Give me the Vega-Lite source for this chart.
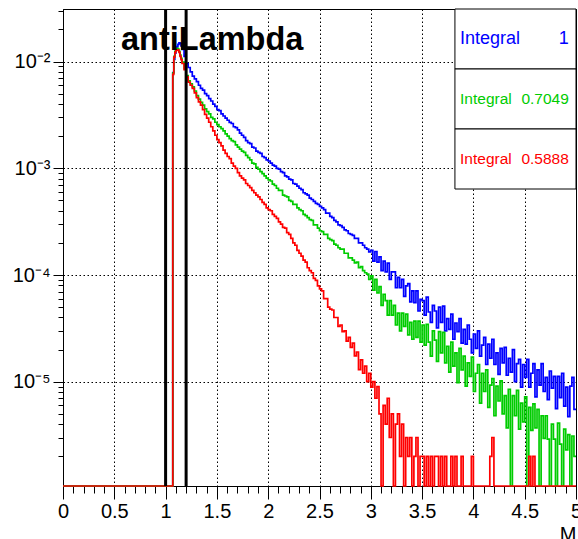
{
"$schema": "https://vega.github.io/schema/vega-lite/v6.json",
"width": 513, "height": 477,
"autosize": {"type": "none"},
"padding": {"left": 63, "top": 9, "right": 2, "bottom": 53},
"background": "white",
"config": {"font": "Liberation Sans", "view": {"stroke": "black", "strokeWidth": 1}},
"title": {"text": "antiLambda", "anchor": "start", "frame": "group", "orient": "top", "offset": 0, "dx": 58, "dy": 75, "baseline": "alphabetic", "fontSize": 32.5, "fontWeight": "bold", "font": "Liberation Sans", "color": "black"},
"datasets": {
"hist": [
{"x":0,"b":1e-6,"g":1e-6,"r":1e-6},
{"x":1.07,"b":7.9e-3,"g":7.8e-3,"r":7.6e-3},
{"x":1.08,"b":1.05e-2,"g":1.12e-2,"r":1.1e-2},
{"x":1.09,"b":1.2e-2,"g":1.25e-2,"r":1.22e-2},
{"x":1.10,"b":1.3e-2,"g":1.3e-2,"r":1.27e-2},
{"x":1.11,"b":1.38e-2,"g":1.33e-2,"r":1.29e-2},
{"x":1.12,"b":1.45e-2,"g":1.31e-2,"r":1.28e-2},
{"x":1.13,"b":1.5e-2,"g":1.25e-2,"r":1.22e-2},
{"x":1.14,"b":1.48e-2,"g":1.15e-2,"r":1.12e-2},
{"x":1.15,"b":1.4e-2,"g":1.07e-2,"r":1.04e-2},
{"x":1.16,"b":1.3e-2,"g":9.9e-3,"r":9.6e-3},
{"x":1.18,"b":1.12e-2,"g":8.6e-3,"r":8.4e-3},
{"x":1.20,"b":9.6e-3,"g":7.4e-3,"r":7.2e-3},
{"x":1.22,"b":8.8e-3,"g":6.6e-3,"r":6.4e-3},
{"x":1.24,"b":8.0e-3,"g":6.2e-3,"r":6.0e-3},
{"x":1.26,"b":7.3e-3,"g":5.8e-3,"r":5.6e-3},
{"x":1.28,"b":6.9e-3,"g":5.3e-3,"r":5.1e-3},
{"x":1.30,"b":6.5e-3,"g":4.8e-3,"r":4.6e-3},
{"x":1.32,"b":6.0e-3,"g":4.45e-3,"r":4.2e-3},
{"x":1.34,"b":5.6e-3,"g":4.15e-3,"r":3.9e-3},
{"x":1.36,"b":5.4e-3,"g":3.9e-3,"r":3.55e-3},
{"x":1.38,"b":5.0e-3,"g":3.6e-3,"r":3.2e-3},
{"x":1.40,"b":4.8e-3,"g":3.4e-3,"r":2.95e-3},
{"x":1.42,"b":4.5e-3,"g":3.24e-3,"r":2.7e-3},
{"x":1.44,"b":4.27e-3,"g":3.0e-3,"r":2.45e-3},
{"x":1.46,"b":4.0e-3,"g":2.9e-3,"r":2.24e-3},
{"x":1.48,"b":3.8e-3,"g":2.7e-3,"r":2.04e-3},
{"x":1.50,"b":3.55e-3,"g":2.57e-3,"r":1.86e-3},
{"x":1.52,"b":3.47e-3,"g":2.45e-3,"r":1.74e-3},
{"x":1.54,"b":3.24e-3,"g":2.35e-3,"r":1.62e-3},
{"x":1.56,"b":3.09e-3,"g":2.24e-3,"r":1.48e-3},
{"x":1.58,"b":2.95e-3,"g":2.1e-3,"r":1.38e-3},
{"x":1.60,"b":2.82e-3,"g":2.0e-3,"r":1.29e-3},
{"x":1.62,"b":2.69e-3,"g":1.9e-3,"r":1.23e-3},
{"x":1.64,"b":2.63e-3,"g":1.82e-3,"r":1.12e-3},
{"x":1.66,"b":2.45e-3,"g":1.78e-3,"r":1.05e-3},
{"x":1.68,"b":2.40e-3,"g":1.66e-3,"r":1.0e-3},
{"x":1.70,"b":2.29e-3,"g":1.58e-3,"r":9.1e-4},
{"x":1.72,"b":2.14e-3,"g":1.51e-3,"r":8.5e-4},
{"x":1.74,"b":2.04e-3,"g":1.45e-3,"r":8.1e-4},
{"x":1.76,"b":1.95e-3,"g":1.41e-3,"r":7.8e-4},
{"x":1.78,"b":1.82e-3,"g":1.32e-3,"r":7.2e-4},
{"x":1.80,"b":1.74e-3,"g":1.26e-3,"r":6.9e-4},
{"x":1.82,"b":1.70e-3,"g":1.2e-3,"r":6.6e-4},
{"x":1.84,"b":1.58e-3,"g":1.12e-3,"r":6.2e-4},
{"x":1.86,"b":1.55e-3,"g":1.1e-3,"r":5.9e-4},
{"x":1.88,"b":1.45e-3,"g":1.02e-3,"r":5.6e-4},
{"x":1.90,"b":1.41e-3,"g":9.8e-4,"r":5.4e-4},
{"x":1.92,"b":1.38e-3,"g":9.3e-4,"r":5.1e-4},
{"x":1.94,"b":1.29e-3,"g":8.9e-4,"r":4.8e-4},
{"x":1.96,"b":1.26e-3,"g":8.5e-4,"r":4.6e-4},
{"x":1.98,"b":1.20e-3,"g":8.1e-4,"r":4.25e-4},
{"x":2.00,"b":1.17e-3,"g":7.8e-4,"r":4.1e-4},
{"x":2.02,"b":1.12e-3,"g":7.6e-4,"r":4.0e-4},
{"x":2.04,"b":1.07e-3,"g":7.1e-4,"r":3.7e-4},
{"x":2.06,"b":1.05e-3,"g":6.9e-4,"r":3.55e-4},
{"x":2.08,"b":1.0e-3,"g":6.5e-4,"r":3.4e-4},
{"x":2.10,"b":9.8e-4,"g":6.2e-4,"r":3.15e-4},
{"x":2.12,"b":9.3e-4,"g":6.2e-4,"r":3.0e-4},
{"x":2.14,"b":9.1e-4,"g":5.6e-4,"r":2.8e-4},
{"x":2.16,"b":8.5e-4,"g":5.5e-4,"r":2.75e-4},
{"x":2.18,"b":8.3e-4,"g":5.4e-4,"r":2.5e-4},
{"x":2.20,"b":7.9e-4,"g":5.0e-4,"r":2.4e-4},
{"x":2.22,"b":7.8e-4,"g":4.9e-4,"r":2.2e-4},
{"x":2.24,"b":7.2e-4,"g":4.6e-4,"r":2.0e-4},
{"x":2.26,"b":7.1e-4,"g":4.6e-4,"r":1.9e-4},
{"x":2.28,"b":6.8e-4,"g":4.25e-4,"r":1.7e-4},
{"x":2.30,"b":6.5e-4,"g":4.1e-4,"r":1.6e-4},
{"x":2.32,"b":6.3e-4,"g":4.0e-4,"r":1.5e-4},
{"x":2.34,"b":5.9e-4,"g":3.7e-4,"r":1.38e-4},
{"x":2.36,"b":5.75e-4,"g":3.6e-4,"r":1.32e-4},
{"x":2.38,"b":5.6e-4,"g":3.45e-4,"r":1.17e-4},
{"x":2.40,"b":5.25e-4,"g":3.3e-4,"r":1.1e-4},
{"x":2.42,"b":5.1e-4,"g":3.25e-4,"r":1.05e-4},
{"x":2.44,"b":4.9e-4,"g":2.95e-4,"r":9.3e-5},
{"x":2.46,"b":4.7e-4,"g":2.95e-4,"r":8.9e-5},
{"x":2.48,"b":4.6e-4,"g":2.75e-4,"r":7.9e-5},
{"x":2.50,"b":4.4e-4,"g":2.6e-4,"r":7.4e-5},
{"x":2.52,"b":4.25e-4,"g":2.55e-4,"r":7.1e-5},
{"x":2.54,"b":4.1e-4,"g":2.4e-4,"r":6.0e-5},
{"x":2.56,"b":3.8e-4,"g":2.4e-4,"r":6.0e-5},
{"x":2.58,"b":3.8e-4,"g":2.2e-4,"r":5.0e-5},
{"x":2.60,"b":3.55e-4,"g":2.15e-4,"r":4.8e-5},
{"x":2.62,"b":3.45e-4,"g":2.1e-4,"r":4.7e-5},
{"x":2.64,"b":3.25e-4,"g":1.95e-4,"r":4.0e-5},
{"x":2.66,"b":3.15e-4,"g":1.9e-4,"r":4.0e-5},
{"x":2.68,"b":2.95e-4,"g":1.8e-4,"r":3.3e-5},
{"x":2.70,"b":2.9e-4,"g":1.75e-4,"r":3.4e-5},
{"x":2.72,"b":2.8e-4,"g":1.75e-4,"r":2.95e-5},
{"x":2.74,"b":2.65e-4,"g":1.6e-4,"r":3.0e-5},
{"x":2.76,"b":2.6e-4,"g":1.6e-4,"r":2.4e-5},
{"x":2.78,"b":2.45e-4,"g":1.45e-4,"r":2.6e-5},
{"x":2.80,"b":2.4e-4,"g":1.45e-4,"r":2.1e-5},
{"x":2.82,"b":2.35e-4,"g":1.38e-4,"r":2.3e-5},
{"x":2.84,"b":2.2e-4,"g":1.3e-4,"r":1.75e-5},
{"x":2.86,"b":2.2e-4,"g":1.32e-4,"r":1.9e-5},
{"x":2.88,"b":2.0e-4,"g":1.17e-4,"r":1.3e-5},
{"x":2.90,"b":2.0e-4,"g":1.2e-4,"r":1.6e-5},
{"x":2.92,"b":1.9e-4,"g":1.1e-4,"r":1.2e-5},
{"x":2.94,"b":1.8e-4,"g":1.05e-4,"r":1.4e-5},
{"x":2.96,"b":1.75e-4,"g":1.02e-4,"r":1.0e-5},
{"x":2.98,"b":1.65e-4,"g":9.1e-5,"r":1.2e-5},
{"x":3.00,"b":1.7e-4,"g":9.8e-5,"r":8.9e-6},
{"x":3.02,"b":1.35e-4,"g":7.2e-5,"r":1.0e-5},
{"x":3.04,"b":1.66e-4,"g":9.1e-5,"r":7e-6},
{"x":3.06,"b":1.32e-4,"g":6.8e-5,"r":9e-6},
{"x":3.08,"b":1.48e-4,"g":7.8e-5,"r":5e-6},
{"x":3.10,"b":1.1e-4,"g":5.2e-5,"r":1e-6},
{"x":3.12,"b":1.35e-4,"g":6.6e-5,"r":6e-6},
{"x":3.14,"b":1.07e-4,"g":5.75e-5,"r":4e-6},
{"x":3.16,"b":1.29e-4,"g":4.2e-5,"r":7e-6},
{"x":3.18,"b":9.1e-5,"g":5.75e-5,"r":3e-6},
{"x":3.20,"b":1.07e-4,"g":4.2e-5,"r":5e-6},
{"x":3.22,"b":1.07e-4,"g":5.2e-5,"r":1e-6},
{"x":3.24,"b":7.6e-5,"g":3.4e-5,"r":4e-6},
{"x":3.26,"b":9.5e-5,"g":4.4e-5,"r":5e-6},
{"x":3.28,"b":7.6e-5,"g":3.0e-5,"r":2e-6},
{"x":3.30,"b":9.1e-5,"g":4.4e-5,"r":4e-6},
{"x":3.32,"b":6.3e-5,"g":3.3e-5,"r":1e-6},
{"x":3.34,"b":7.9e-5,"g":4.3e-5,"r":3e-6},
{"x":3.36,"b":8.3e-5,"g":2.75e-5,"r":2e-6},
{"x":3.38,"b":5.6e-5,"g":3.6e-5,"r":3e-6},
{"x":3.40,"b":7.1e-5,"g":2.5e-5,"r":1e-6},
{"x":3.42,"b":5.5e-5,"g":3.7e-5,"r":2e-6},
{"x":3.44,"b":7.1e-5,"g":2.6e-5,"r":3e-6},
{"x":3.46,"b":4.6e-5,"g":3.7e-5,"r":1e-6},
{"x":3.48,"b":5.9e-5,"g":2.35e-5,"r":2e-6},
{"x":3.50,"b":5.75e-5,"g":3.4e-5,"r":2e-6},
{"x":3.52,"b":4.2e-5,"g":2.2e-5,"r":1e-6},
{"x":3.54,"b":6.2e-5,"g":3.45e-5,"r":2e-6},
{"x":3.56,"b":4.5e-5,"g":2.35e-5,"r":1e-6},
{"x":3.58,"b":3.6e-5,"g":1.74e-5,"r":2e-6},
{"x":3.60,"b":5.2e-5,"g":3.0e-5,"r":1e-6},
{"x":3.62,"b":4.6e-5,"g":2.45e-5,"r":2e-6},
{"x":3.64,"b":3.2e-5,"g":1.55e-5,"r":2e-6},
{"x":3.66,"b":5.0e-5,"g":2.95e-5,"r":1e-6},
{"x":3.68,"b":3.6e-5,"g":1.86e-5,"r":2e-6},
{"x":3.70,"b":5.1e-5,"g":2.9e-5,"r":1e-6},
{"x":3.72,"b":3.0e-5,"g":1.5e-5,"r":2e-6},
{"x":3.74,"b":3.9e-5,"g":2.15e-5,"r":1e-6},
{"x":3.76,"b":3.1e-5,"g":1.23e-5,"r":1e-6},
{"x":3.78,"b":4.3e-5,"g":2.35e-5,"r":2e-6},
{"x":3.80,"b":2.5e-5,"g":1.4e-5,"r":1e-6},
{"x":3.82,"b":3.55e-5,"g":1.86e-5,"r":2e-6},
{"x":3.84,"b":2.95e-5,"g":9.8e-6,"r":1e-6},
{"x":3.86,"b":3.9e-5,"g":2.05e-5,"r":1e-6},
{"x":3.88,"b":2.3e-5,"g":1.29e-5,"r":2e-6},
{"x":3.90,"b":3.1e-5,"g":1.74e-5,"r":1e-6},
{"x":3.92,"b":2.25e-5,"g":9.1e-6,"r":1e-6},
{"x":3.94,"b":3.4e-5,"g":1.5e-5,"r":1e-6},
{"x":3.96,"b":2.5e-5,"g":1.12e-5,"r":1e-6},
{"x":3.98,"b":1.86e-5,"g":1.7e-5,"r":2e-6},
{"x":4.00,"b":2.8e-5,"g":8.1e-6,"r":1e-6},
{"x":4.02,"b":2.05e-5,"g":1.2e-5,"r":1e-6},
{"x":4.04,"b":3.0e-5,"g":1.45e-5,"r":1e-6},
{"x":4.06,"b":1.74e-5,"g":6.3e-6,"r":1e-6},
{"x":4.08,"b":2.2e-5,"g":1.2e-5,"r":1e-6},
{"x":4.10,"b":2.6e-5,"g":8.1e-6,"r":1e-6},
{"x":4.12,"b":1.45e-5,"g":1.29e-5,"r":1e-6},
{"x":4.14,"b":2.25e-5,"g":5.75e-6,"r":1e-6},
{"x":4.16,"b":1.66e-5,"g":9.3e-6,"r":2e-6},
{"x":4.18,"b":2.5e-5,"g":1.07e-5,"r":3e-6},
{"x":4.20,"b":1.45e-5,"g":4.8e-6,"r":1e-6},
{"x":4.22,"b":1.86e-5,"g":9.1e-6,"r":1e-6},
{"x":4.24,"b":1.17e-5,"g":6.6e-6,"r":1e-6},
{"x":4.26,"b":2.05e-5,"g":1.02e-5,"r":1e-6},
{"x":4.28,"b":1.5e-5,"g":5.0e-6,"r":1e-6},
{"x":4.30,"b":2.1e-5,"g":7.4e-6,"r":1e-6},
{"x":4.32,"b":1.15e-5,"g":3.7e-6,"r":1e-6},
{"x":4.34,"b":1.66e-5,"g":8.5e-6,"r":1e-6},
{"x":4.36,"b":1.23e-5,"g":1e-6,"r":1e-6},
{"x":4.38,"b":2.0e-5,"g":7.4e-6,"r":1e-6},
{"x":4.40,"b":1.0e-5,"g":4.8e-6,"r":1e-6},
{"x":4.42,"b":1.48e-5,"g":8.3e-6,"r":1e-6},
{"x":4.44,"b":1.62e-5,"g":3.6e-6,"r":1e-6},
{"x":4.46,"b":8.9e-6,"g":6.3e-6,"r":1e-6},
{"x":4.48,"b":1.45e-5,"g":4.2e-6,"r":1e-6},
{"x":4.50,"b":1.1e-5,"g":7.2e-6,"r":1e-6},
{"x":4.52,"b":1.62e-5,"g":1e-6,"r":1e-6},
{"x":4.54,"b":8.9e-6,"g":5.75e-6,"r":2e-6},
{"x":4.56,"b":1.2e-5,"g":3.5e-6,"r":1e-6},
{"x":4.58,"b":1.48e-5,"g":6.2e-6,"r":2e-6},
{"x":4.60,"b":7.2e-6,"g":3.7e-6,"r":1e-6},
{"x":4.62,"b":1.29e-5,"g":5.5e-6,"r":1e-6},
{"x":4.64,"b":9.3e-6,"g":1e-6,"r":1e-6},
{"x":4.66,"b":1.48e-5,"g":4.8e-6,"r":1e-6},
{"x":4.68,"b":8.1e-6,"g":2.95e-6,"r":1e-6},
{"x":4.70,"b":1.1e-5,"g":4.8e-6,"r":1e-6},
{"x":4.72,"b":6.8e-6,"g":2.9e-6,"r":1e-6},
{"x":4.74,"b":1.26e-5,"g":1e-6,"r":1e-6},
{"x":4.76,"b":8.7e-6,"g":4.0e-6,"r":1e-6},
{"x":4.78,"b":1.12e-5,"g":2.9e-6,"r":1e-6},
{"x":4.80,"b":5.6e-6,"g":1e-6,"r":1e-6},
{"x":4.82,"b":1.12e-5,"g":4.1e-6,"r":1e-6},
{"x":4.84,"b":7.1e-6,"g":2.6e-6,"r":1e-6},
{"x":4.86,"b":1.2e-5,"g":1e-6,"r":1e-6},
{"x":4.88,"b":5.9e-6,"g":3.6e-6,"r":1e-6},
{"x":4.90,"b":8.9e-6,"g":2.3e-6,"r":1e-6},
{"x":4.92,"b":4.7e-6,"g":3.2e-6,"r":1e-6},
{"x":4.94,"b":9.1e-6,"g":1e-6,"r":1e-6},
{"x":4.96,"b":1.1e-5,"g":3.1e-6,"r":1e-6},
{"x":4.98,"b":5.5e-6,"g":2.0e-6,"r":1e-6},
{"x":5.00,"b":5.5e-6,"g":2.0e-6,"r":1e-6}
],
"stats": [
{"s":"b","lab":"Integral","val":"1"},
{"s":"g","lab":"Integral","val":"0.7049"},
{"s":"r","lab":"Integral","val":"0.5888"}
]
},
"resolve": {"scale": {"x": "independent", "y": "independent"}, "axis": {"x": "independent", "y": "independent"}},
"layer": [
{
"data": {"name": "hist"},
"transform": [{"fold": ["b", "g", "r"], "as": ["s", "v"]}],
"mark": {"type": "line", "interpolate": "step-after", "strokeWidth": 1.7},
"encoding": {
"x": {"field": "x", "type": "quantitative", "scale": {"domain": [0, 5], "nice": false, "zero": false},
"axis": {"values": [0, 0.5, 1, 1.5, 2, 2.5, 3, 3.5, 4, 4.5, 5], "format": "~g", "grid": true, "gridColor": "black", "gridDash": [1.5, 2.5], "gridWidth": 1, "tickSize": 13, "tickColor": "black", "domainColor": "black", "labelFontSize": 20, "labelColor": "black", "labelPadding": 2, "labelFlush": false, "labelBound": false, "labelOverlap": false, "labelFont": "Liberation Sans", "title": "M", "titleFont": "Liberation Sans", "titleFontSize": 20, "titleFontWeight": "normal", "titleColor": "black", "titleAnchor": "end", "titleAlign": "right", "titleBaseline": "top", "titleX": 513, "titleY": 38}},
"y": {"field": "v", "type": "quantitative", "scale": {"type": "log", "domain": [1.054e-6, 0.0311], "nice": false, "clamp": true},
"axis": {"values": [1e-5, 1e-4, 1e-3, 1e-2], "labelExpr": "round(log(datum.value)/LN10) == -2 ? '10⁻²' : round(log(datum.value)/LN10) == -3 ? '10⁻³' : round(log(datum.value)/LN10) == -4 ? '10⁻⁴' : '10⁻⁵'", "grid": true, "gridColor": "black", "gridDash": [1.5, 2.5], "gridWidth": 1, "tickSize": 10, "tickColor": "black", "domainColor": "black", "labelFontSize": 20, "labelColor": "black", "labelPadding": 3, "labelFont": "Liberation Sans", "labelOverlap": false, "title": null}},
"color": {"field": "s", "type": "nominal", "scale": {"domain": ["b", "g", "r"], "range": ["#0000ff", "#00cc00", "#ff0000"]}, "legend": null}
}
},
{
"data": {"values": [{}]},
"mark": {"type": "point", "opacity": 0},
"encoding": {
"x": {"datum": 2, "type": "quantitative", "scale": {"domain": [0, 5], "nice": false, "zero": false},
"axis": {"orient": "bottom", "values": [0.1,0.2,0.3,0.4,0.6,0.7,0.8,0.9,1.1,1.2,1.3,1.4,1.6,1.7,1.8,1.9,2.1,2.2,2.3,2.4,2.6,2.7,2.8,2.9,3.1,3.2,3.3,3.4,3.6,3.7,3.8,3.9,4.1,4.2,4.3,4.4,4.6,4.7,4.8,4.9], "labels": false, "domain": false, "grid": false, "tickSize": 7, "tickColor": "black", "title": null}},
"y": {"datum": 0.001, "type": "quantitative", "scale": {"type": "log", "domain": [1.054e-6, 0.0311], "nice": false},
"axis": {"orient": "left", "values": [2e-6,3e-6,4e-6,5e-6,6e-6,7e-6,8e-6,9e-6,2e-5,3e-5,4e-5,5e-5,6e-5,7e-5,8e-5,9e-5,2e-4,3e-4,4e-4,5e-4,6e-4,7e-4,8e-4,9e-4,2e-3,3e-3,4e-3,5e-3,6e-3,7e-3,8e-3,9e-3,2e-2,3e-2], "labels": false, "domain": false, "grid": false, "tickSize": 5, "tickColor": "black", "title": null}}
}
},
{
"data": {"values": [{"m": 1.0}, {"m": 1.2}]},
"mark": {"type": "rule", "color": "black", "strokeWidth": 3},
"encoding": {"x": {"field": "m", "type": "quantitative", "scale": {"domain": [0, 5], "nice": false, "zero": false}, "axis": null}}
},
{
"data": {"name": "stats"},
"mark": {"type": "rect", "fill": "white", "stroke": "black", "strokeWidth": 1},
"encoding": {
"x": {"datum": 3.82, "type": "quantitative", "scale": {"domain": [0, 5], "nice": false, "zero": false}, "axis": null},
"x2": {"datum": 5},
"y": {"field": "s", "type": "nominal", "scale": {"type": "band", "domain": ["b", "g", "r"], "range": [0, 180], "paddingInner": 0, "paddingOuter": 0}, "axis": null}
}
},
{
"data": {"name": "stats"},
"mark": {"type": "text", "align": "left", "baseline": "middle", "font": "Liberation Sans"},
"encoding": {
"x": {"datum": 3.87, "type": "quantitative", "scale": {"domain": [0, 5], "nice": false, "zero": false}, "axis": null},
"y": {"field": "s", "type": "nominal", "scale": {"type": "band", "domain": ["b", "g", "r"], "range": [0, 180], "paddingInner": 0, "paddingOuter": 0}, "axis": null},
"text": {"field": "lab"},
"color": {"field": "s", "type": "nominal", "scale": {"domain": ["b", "g", "r"], "range": ["#0000ff", "#00cc00", "#ff0000"]}, "legend": null},
"size": {"field": "s", "type": "nominal", "scale": {"type": "ordinal", "domain": ["b", "g", "r"], "range": [18, 15.5, 15.5]}, "legend": null}
}
},
{
"data": {"name": "stats"},
"mark": {"type": "text", "align": "right", "baseline": "middle", "font": "Liberation Sans"},
"encoding": {
"x": {"datum": 4.93, "type": "quantitative", "scale": {"domain": [0, 5], "nice": false, "zero": false}, "axis": null},
"y": {"field": "s", "type": "nominal", "scale": {"type": "band", "domain": ["b", "g", "r"], "range": [0, 180], "paddingInner": 0, "paddingOuter": 0}, "axis": null},
"text": {"field": "val"},
"color": {"field": "s", "type": "nominal", "scale": {"domain": ["b", "g", "r"], "range": ["#0000ff", "#00cc00", "#ff0000"]}, "legend": null},
"size": {"field": "s", "type": "nominal", "scale": {"type": "ordinal", "domain": ["b", "g", "r"], "range": [18, 15.5, 15.5]}, "legend": null}
}
}
]
}
